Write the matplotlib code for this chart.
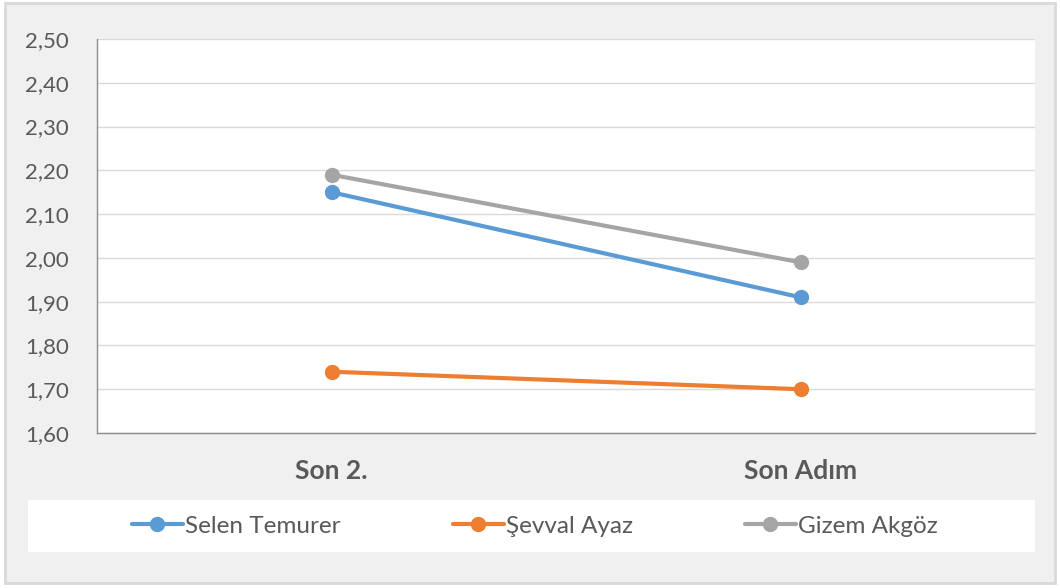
import matplotlib.pyplot as plt
from matplotlib.patches import Rectangle
from matplotlib.ticker import FuncFormatter

categories = ["Son 2.", "Son Adım"]
selen = [2.15, 1.91]
sevval = [1.74, 1.70]
gizem = [2.19, 1.99]
series_names = ["Selen Temurer", "Şevval Ayaz", "Gizem Akgöz"]
colors = ["#5b9bd5", "#ed7d31", "#a5a5a5"]

plt.rcParams["font.family"] = ["Lato", "DejaVu Sans"]
text_color = "#595959"

fig = plt.figure(figsize=(10.6, 5.88), dpi=100, facecolor="white")
W, H = 1060, 588

# chart background with border
fig.patches.append(Rectangle((5 / W, 1 - 583 / H), 1050 / W, 580 / H,
                             transform=fig.transFigure, facecolor="#f0f0f0",
                             edgecolor="#d9d9d9", linewidth=2, zorder=-2))
# legend box
fig.patches.append(Rectangle((28 / W, 1 - 552 / H), 1007 / W, 52 / H,
                             transform=fig.transFigure, facecolor="white",
                             edgecolor="none", zorder=-1))

ax = fig.add_axes([97 / W, 1 - 433 / H, 938 / W, 394 / H])
ax.set_facecolor("white")

x = range(len(categories))
for vals, name, c in zip([selen, sevval, gizem], series_names, colors):
    ax.plot(x, vals, color=c, linewidth=3, marker="o", markersize=10,
            label=name, solid_capstyle="round", zorder=3)

ax.set_xlim(-0.5, 1.5)
ax.set_ylim(1.60, 2.50)
ax.set_yticks([1.60 + 0.1 * i for i in range(10)])
ax.yaxis.set_major_formatter(FuncFormatter(lambda v, p: f"{v:.2f}".replace(".", ",")))
ax.set_xticks(list(x))
ax.set_xticklabels(categories, fontsize=19, fontweight="bold", color=text_color)
ax.tick_params(axis="y", length=0, pad=20, labelsize=16, labelcolor=text_color)
ax.tick_params(axis="x", length=0, pad=19)
ax.grid(axis="y", color="#d9d9d9", linewidth=1)
ax.set_axisbelow(True)
for s in ["top", "right"]:
    ax.spines[s].set_visible(False)
for s in ["left", "bottom"]:
    ax.spines[s].set_color("#8c8c8c")
    ax.spines[s].set_linewidth(1)

leg = fig.legend(loc="center", bbox_to_anchor=(535 / W, 1 - 526 / H), ncol=3,
                 frameon=False, fontsize=17.5, handlelength=2.1, handletextpad=0.1,
                 columnspacing=4.6, labelcolor=text_color)

fig.savefig("out.png", dpi=100, facecolor=fig.get_facecolor())
